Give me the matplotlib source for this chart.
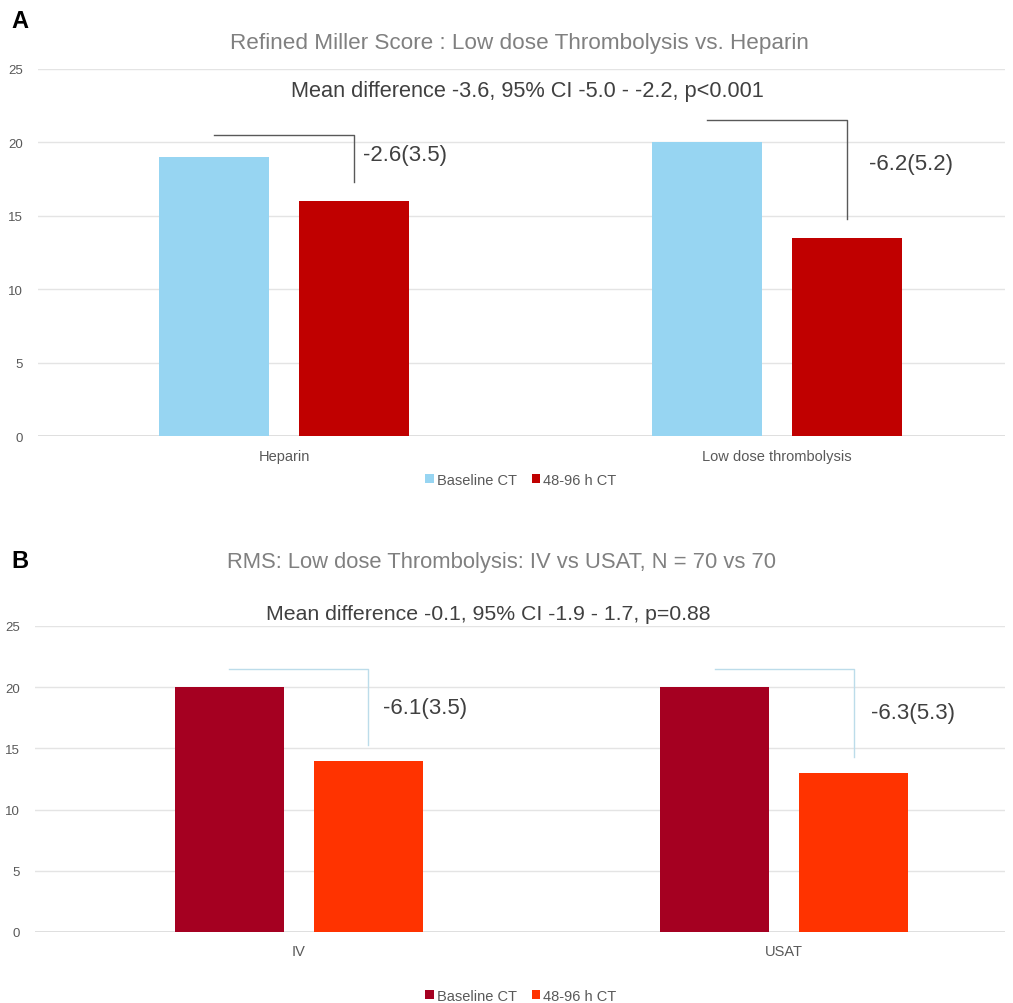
import matplotlib.pyplot as plt
import numpy as np

# panel A data
groups_a = ['Heparin', 'Low dose thrombolysis']
base_a = [19.0, 20.0]
follow_a = [16.0, 13.5]
labels_a = ['-2.6(3.5)', '-6.2(5.2)']

# panel B data
groups_b = ['IV', 'USAT']
base_b = [20.0, 20.0]
follow_b = [14.0, 13.0]
labels_b = ['-6.1(3.5)', '-6.3(5.3)']

series = ['Baseline CT', '48-96 h CT']

W, H = 1013, 1004
fig = plt.figure(figsize=(W / 100, H / 100), dpi=100)
plt.rcParams['font.family'] = ['Liberation Sans', 'DejaVu Sans']


def px_axes(x0, x1, y_top, y_bot):
    return fig.add_axes([x0 / W, 1 - y_bot / H, (x1 - x0) / W, (y_bot - y_top) / H])


def panel(ax, groups, base, follow, labels, colors, bracket_col, xlim, width, off, txt_dx, txt_dy):
    x = np.arange(len(groups))
    ax.bar(x - off, base, width, color=colors[0], label=series[0], zorder=2)
    ax.bar(x + off, follow, width, color=colors[1], label=series[1], zorder=2)
    ax.set_ylim(0, 25)
    ax.set_xlim(*xlim)
    ax.set_yticks(range(0, 26, 5))
    ax.grid(axis='y', color='#e4e4e4', lw=1, zorder=0)
    for s in ax.spines.values():
        s.set_visible(False)
    ax.axhline(0, color='#d9d9d9', lw=1.2, zorder=1)
    ax.tick_params(length=0, colors='#595959', labelsize=9.5)
    ax.tick_params(axis='y', pad=11)
    ax.tick_params(axis='x', pad=9, labelsize=10.5)
    ax.set_xticks(x)
    ax.set_xticklabels(groups)
    for i in range(len(groups)):
        top = base[i] + 1.5
        bot = follow[i] + 1.3
        ax.plot([x[i] - off, x[i] + off, x[i] + off], [top, top, bot],
                color=bracket_col, lw=1, zorder=3)
        ax.text(x[i] + off + txt_dx[i], (top + bot) / 2 + txt_dy[i], labels[i],
                fontsize=16, color='#404040', va='center', ha='left')


ax_a = px_axes(38, 1005, 70, 437)
panel(ax_a, groups_a, base_a, follow_a, labels_a, ['#97d5f2', '#c00000'], '#595959',
      (-0.5, 1.462), 0.223, 0.142, [0.017, 0.045], [0.25, 0.4])
ax_b = px_axes(35, 1005, 627, 933)
panel(ax_b, groups_b, base_b, follow_b, labels_b, ['#a50021', '#ff3300'], '#bcdcea',
      (-0.543, 1.455), 0.2245, 0.143, [0.03, 0.035], [-0.05, 0.0])

fig.text(519 / W, 1 - 43 / H, 'Refined Miller Score : Low dose Thrombolysis vs. Heparin',
         ha='center', va='center', fontsize=16.2, color='#808080')
fig.text(527 / W, 1 - 91 / H, 'Mean difference -3.6, 95% CI -5.0 - -2.2, p<0.001',
         ha='center', va='center', fontsize=15.7, color='#404040')
fig.text(501 / W, 1 - 563 / H, 'RMS: Low dose Thrombolysis: IV vs USAT, N = 70 vs 70',
         ha='center', va='center', fontsize=15.8, color='#808080')
fig.text(488 / W, 1 - 614 / H, 'Mean difference -0.1, 95% CI -1.9 - 1.7, p=0.88',
         ha='center', va='center', fontsize=15.3, color='#404040')

fig.text(11 / W, 1 - 22 / H, 'A', fontsize=17, fontweight='bold', va='center')
fig.text(11 / W, 1 - 562 / H, 'B', fontsize=17, fontweight='bold', va='center')

for ax, y in [(ax_a, 481), (ax_b, 997)]:
    h, l = ax.get_legend_handles_labels()
    fig.legend(h, l, loc='center', bbox_to_anchor=(521 / W, 1 - y / H), ncol=2,
               frameon=False, handlelength=0.6, handleheight=0.6, handletextpad=0.2,
               columnspacing=1.0, prop={'size': 10.5},
               labelcolor='#595959')

fig.savefig('out.png', dpi=100)
